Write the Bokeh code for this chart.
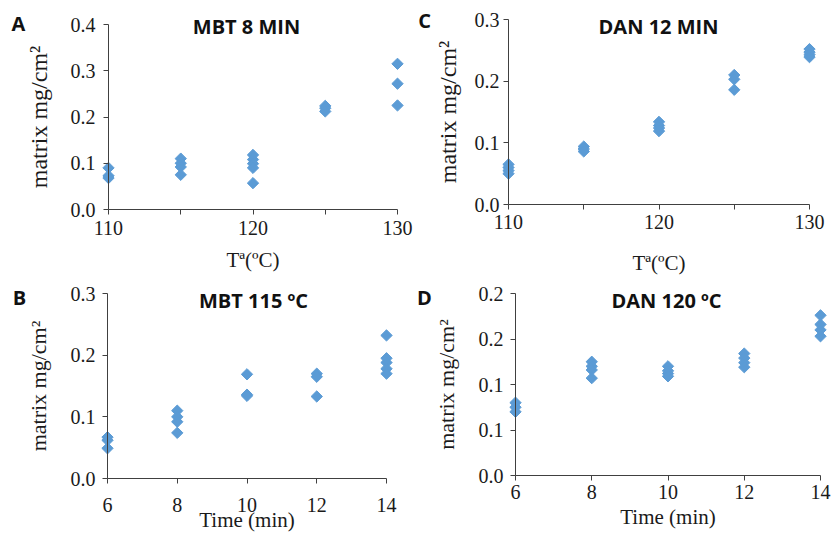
import numpy as np
from bokeh.plotting import figure
from bokeh.models import Range1d, Label, FixedTicker
from bokeh.layouts import row, column
from bokeh.embed import file_html
from bokeh.resources import INLINE

# ---------------- data ----------------
a_temp = [110, 110, 110, 115, 115, 115, 115, 120, 120, 120, 120, 120, 125, 125, 125, 130, 130, 130]
a_matrix = [0.090, 0.073, 0.068, 0.110, 0.100, 0.092, 0.075, 0.118, 0.108, 0.099, 0.090, 0.057,
            0.224, 0.219, 0.212, 0.315, 0.272, 0.225]

c_temp = [110, 110, 110, 110, 115, 115, 115, 120, 120, 120, 120, 125, 125, 125, 130, 130, 130, 130]
c_matrix = [0.065, 0.060, 0.055, 0.050, 0.094, 0.090, 0.086, 0.134, 0.128, 0.124, 0.119,
            0.210, 0.203, 0.186, 0.252, 0.247, 0.243, 0.239]

b_time = [6, 6, 6, 8, 8, 8, 8, 10, 10, 10, 12, 12, 12, 14, 14, 14, 14, 14]
b_matrix = [0.067, 0.062, 0.049, 0.110, 0.100, 0.092, 0.074, 0.169, 0.136, 0.134,
            0.170, 0.165, 0.133, 0.232, 0.195, 0.188, 0.178, 0.170]

d_time = [6, 6, 6, 8, 8, 8, 8, 10, 10, 10, 10, 12, 12, 12, 12, 14, 14, 14, 14]
d_matrix = [0.080, 0.075, 0.070, 0.125, 0.120, 0.116, 0.107, 0.120, 0.115, 0.112, 0.109,
            0.134, 0.129, 0.124, 0.119, 0.176, 0.166, 0.160, 0.153]

titles = ["MBT 8 MIN", "DAN 12 MIN", "MBT 115 ºC", "DAN 120 ºC"]
letters = ["A", "C", "B", "D"]
y_title = "matrix mg/cm²"
temp_title = "Tª(ºC)"
time_title = "Time (min)"

temp_ticks = [110, 115, 120, 125, 130]
temp_tick_labels = ["110", "", "120", "", "130"]
time_ticks = [6, 8, 10, 12, 14]
time_tick_labels = ["6", "8", "10", "12", "14"]
a_yticks = [0.0, 0.1, 0.2, 0.3, 0.4]
a_ytick_labels = ["0.0", "0.1", "0.2", "0.3", "0.4"]
bc_yticks = [0.0, 0.1, 0.2, 0.3]
bc_ytick_labels = ["0.0", "0.1", "0.2", "0.3"]
d_yticks = [0.0, 0.05, 0.1, 0.15, 0.2]
d_ytick_labels = ["0.0", "0.1", "0.1", "0.2", "0.2"]

BLUE = "#5B9BD5"
AXIS = "#404040"
SERIF = "Liberation Serif"


def panel(xs, ys, xr, yr, xticks, xlabels, yticks, ylabels, xtitle, title, letter,
          fig, axes, title_xy, letter_xy, ystand, ylstand, xstand, xlstand, ysize):
    x1, x2 = xr
    y0, y1 = yr
    ox, oy, w, h = fig
    ax1, ax2, aytop, aybot = axes
    ppx = (ax2 - ax1) / (x2 - x1)
    ppy = (aybot - aytop) / (y1 - y0)
    p = figure(width=w, height=h,
               x_range=Range1d(x1 - (ax1 - ox) / ppx, x2 + (ox + w - ax2) / ppx),
               y_range=Range1d(y0 - (oy + h - aybot) / ppy, y1 + (aytop - oy) / ppy),
               output_backend="svg", toolbar_location=None,
               min_border_left=0, min_border_right=0, min_border_top=0, min_border_bottom=0,
               x_axis_label=xtitle, y_axis_label=y_title)
    p.outline_line_color = None
    p.grid.grid_line_color = None
    p.background_fill_color = "white"
    p.border_fill_color = "white"

    p.xaxis.ticker = FixedTicker(ticks=xticks, minor_ticks=[])
    p.xaxis.major_label_overrides = {t: l for t, l in zip(xticks, xlabels)}
    p.xaxis.bounds = (x1, x2)
    p.xaxis.fixed_location = y0
    p.yaxis.ticker = FixedTicker(ticks=yticks, minor_ticks=[])
    p.yaxis.major_label_overrides = {t: l for t, l in zip(yticks, ylabels)}
    p.yaxis.bounds = (y0, y1)
    p.yaxis.fixed_location = x1

    for ax in (p.xaxis, p.yaxis):
        ax.axis_line_color = AXIS
        ax.axis_line_width = 1
        ax.major_tick_line_color = AXIS
        ax.major_tick_out = 5
        ax.major_tick_in = 0
        ax.minor_tick_line_color = None
        ax.major_label_text_font = SERIF
        ax.major_label_text_font_size = "20px"
        ax.major_label_text_color = "#1a1a1a"
        ax.axis_label_text_font = SERIF
        ax.axis_label_text_font_style = "normal"
        ax.axis_label_text_font_size = "21px"
        ax.axis_label_text_color = "#1a1a1a"
    p.yaxis.axis_label_text_font_size = ysize
    p.yaxis.major_label_standoff = ystand
    p.yaxis.axis_label_standoff = ylstand
    p.xaxis.major_label_standoff = xstand
    p.xaxis.axis_label_standoff = xlstand

    p.scatter(xs, ys, marker="square", angle=np.pi / 4, size=8,
              fill_color=BLUE, line_color=BLUE, line_width=1)

    def to_data(sx, sy):
        return x1 + (sx - ax1) / ppx, y0 + (aybot - sy) / ppy

    tx, ty = to_data(*title_xy)
    p.add_layout(Label(x=tx, y=ty, text=title, text_font="Open Sans", text_font_style="bold",
                       text_font_size="20px", text_align="center", text_baseline="middle",
                       text_color="#111111"))
    lx, ly = to_data(*letter_xy)
    p.add_layout(Label(x=lx, y=ly, text=letter, text_font="Open Sans", text_font_style="bold",
                       text_font_size="20px", text_align="center", text_baseline="middle",
                       text_color="#111111"))
    return p


pA = panel(a_temp, a_matrix, (110, 130), (0, 0.4), temp_ticks, temp_tick_labels,
           a_yticks, a_ytick_labels, temp_title, titles[0], letters[0],
           (0, 0, 416, 278), (108, 397, 24, 209), (246, 26), (18, 23), 8, 16, 6, 10, "24px")
pC = panel(c_temp, c_matrix, (110, 130), (0, 0.3), temp_ticks, temp_tick_labels,
           bc_yticks, bc_ytick_labels, temp_title, titles[1], letters[1],
           (416, 0, 417, 278), (508, 809, 19, 204), (658, 26), (424, 20), 4, 11, 5, 19, "24px")
pB = panel(b_time, b_matrix, (6, 14), (0, 0.3), time_ticks, time_tick_labels,
           bc_yticks, bc_ytick_labels, time_title, titles[2], letters[2],
           (0, 278, 416, 256), (107, 386, 293, 478), (253, 300), (19, 297), 7, 17, 14, -7, "22px")
pD = panel(d_time, d_matrix, (6, 14), (0, 0.2), time_ticks, time_tick_labels,
           d_yticks, d_ytick_labels, time_title, titles[3], letters[3],
           (416, 278, 417, 256), (515, 820, 293, 475), (666, 300), (424, 297), 7, 17, 4, 3, "22px")

layout = column(row(pA, pC, spacing=0), row(pB, pD, spacing=0), spacing=0)
open("out.html", "w").write(file_html(layout, INLINE))
